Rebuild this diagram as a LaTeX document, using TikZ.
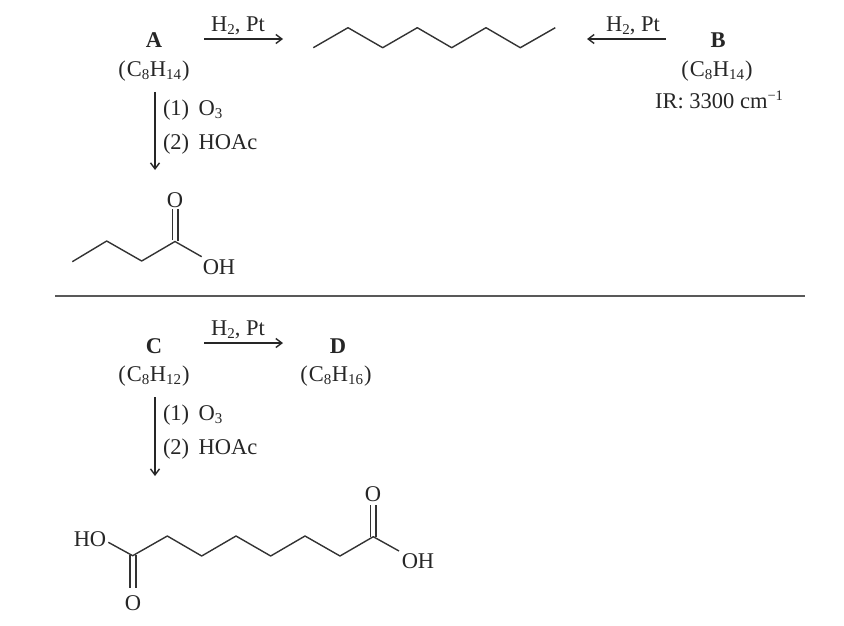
\documentclass[tikz,border=0pt]{standalone}
\usepackage{fontspec}
\setmainfont{Liberation Serif}
\usetikzlibrary{arrows.meta}
\newcommand{\sbs}[1]{\raisebox{-0.3ex}{\fontsize{15}{16}\selectfont #1}}
\newcommand{\sps}[1]{\raisebox{0.75ex}{\fontsize{14.5}{15}\selectfont #1}}
\newcommand{\formula}[2]{(\kern1pt C\sbs{#1}\kern0.5pt H\sbs{#2}\kern1pt)}
\tikzset{
  lab/.style={anchor=base,inner sep=0pt,outer sep=0pt,font=\fontsize{22.5}{24}\selectfont,text=black!85},
  labl/.style={lab,anchor=base west},
  bond/.style={draw=black!80,line width=1.4pt,line join=round},
  rxn/.style={draw=black!85,line width=1.4pt,-{Straight Barb[length=6pt,width=9pt]}},
  rule/.style={draw=black!65,line width=1.6pt}
}
\begin{document}
\begin{tikzpicture}[x=1pt,y=-1pt]
\useasboundingbox (0,0) rectangle (844,626);
% labels
\node[lab] (A) at (154,48) {\textbf{A}};
\node[lab] (Af) at (154,76.5) {\formula{8}{14}};
\node[lab] (h1) at (238,31.5) {H\sbs{2}, Pt};
\node[lab] (h2) at (633,31.5) {H\sbs{2}, Pt};
\node[lab] (B) at (718,48) {\textbf{B}};
\node[lab] (Bf) at (717,76.5) {\formula{8}{14}};
\node[lab] (Bir) at (719,108) {IR: 3300 cm\sps{−1}};
\node[labl] (o1) at (163,115) {(1)\, O\sbs{3}};
\node[labl] (o2) at (163,149) {(2)\, HOAc};
\node[lab] (C) at (154,353) {\textbf{C}};
\node[lab] (Cf) at (154,381.5) {\formula{8}{12}};
\node[lab] (D) at (338,353) {\textbf{D}};
\node[lab] (Df) at (336,381.5) {\formula{8}{16}};
\node[lab] (h3) at (238,335.5) {H\sbs{2}, Pt};
\node[labl] (o3) at (163,420) {(1)\, O\sbs{3}};
\node[labl] (o4) at (163,454) {(2)\, HOAc};
% arrows
\coordinate (a1s) at (204,39); \coordinate (a1e) at (283,39);
\coordinate (a2s) at (666,39); \coordinate (a2e) at (587,39);
\coordinate (a3s) at (155,92); \coordinate (a3e) at (155,170);
\coordinate (a4s) at (204,343); \coordinate (a4e) at (283,343);
\coordinate (a5s) at (155,397); \coordinate (a5e) at (155,476);
\draw[rxn] (a1s) -- (a1e);
\draw[rxn] (a2s) -- (a2e);
\draw[rxn] (a3s) -- (a3e);
\draw[rxn] (a4s) -- (a4e);
\draw[rxn] (a5s) -- (a5e);
% rule
\coordinate (r1) at (55,296); \coordinate (r2) at (805,296);
\draw[rule] (r1) -- (r2);
% octane
\draw[bond] (313.3,47.7) -- (348,27.7) -- (382.7,47.7) -- (417.3,27.7) -- (451.7,47.7) -- (486,27.7) -- (520.3,47.7) -- (555.3,27.7);
% butanoic acid
\node[lab] (bO) at (175,207) {O};
\node[lab] (bOH) at (219,274) {OH};
\draw[bond] (72.3,261.7) -- (106.7,241) -- (141.7,261) -- (175,241.5) -- (201.7,256.7);
\draw[bond] (172.5,240) -- (172.5,209);
\draw[bond] (178,240.5) -- (178,209);
% diacid
\node[lab] (dHO) at (90,546) {HO};
\node[lab] (dOH) at (418,568) {OH};
\node[lab] (dO1) at (373,501.5) {O};
\node[lab] (dO2) at (133,610) {O};
\draw[bond] (108.3,542.3) -- (132.7,555.7) -- (167.3,536) -- (201.7,556) -- (236,536) -- (270.7,556) -- (305,536) -- (340,556) -- (373.3,536.7) -- (399,551);
\draw[bond] (370.5,537) -- (370.5,505);
\draw[bond] (376,537) -- (376,505);
\draw[bond] (130,555) -- (130,587.5);
\draw[bond] (136,555) -- (136,587.5);
\end{tikzpicture}
\end{document}
